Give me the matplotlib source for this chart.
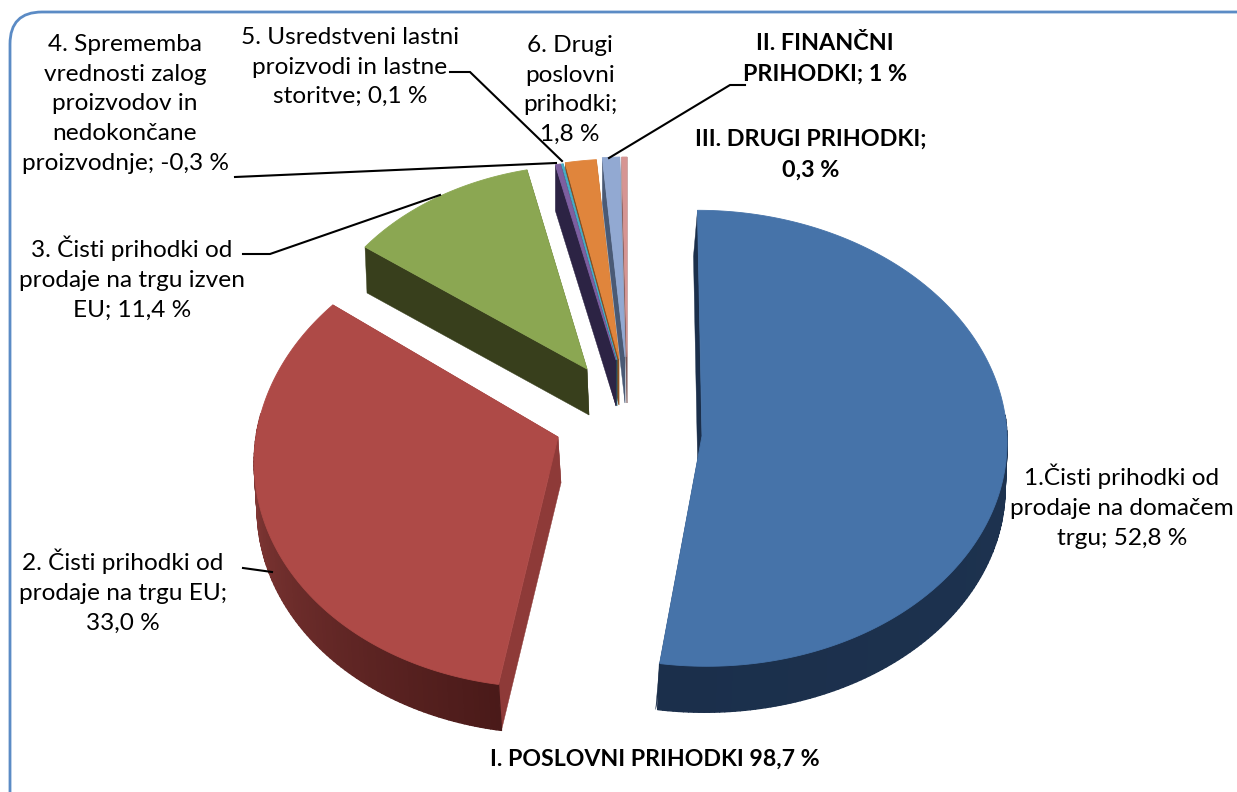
import numpy as np
import matplotlib
matplotlib.use('Agg')
import matplotlib.pyplot as plt
from matplotlib.patches import FancyBboxPatch, Polygon
from matplotlib.collections import PolyCollection
from matplotlib.colors import to_rgb

plt.rcParams['font.family'] = ['Lato', 'DejaVu Sans']

# chart data, in percent (item 4 is negative, the pie uses its size)
values = [52.8, 33.0, 11.4, -0.3, 0.1, 1.8, 1.0, 0.3]
labels = ["1.Čisti prihodki od\nprodaje na domačem\ntrgu; 52,8 %",
          "2. Čisti prihodki od\nprodaje na trgu EU;\n33,0 %",
          "3. Čisti prihodki od\nprodaje na trgu izven\nEU; 11,4 %",
          "4. Sprememba\nvrednosti zalog\nproizvodov in\nnedokončane\nproizvodnje; -0,3 %",
          "5. Usredstveni lastni\nproizvodi in lastne\nstoritve; 0,1 %",
          "6. Drugi\nposlovni\nprihodki;\n1,8 %",
          "II. FINANČNI\nPRIHODKI; 1 %",
          "III. DRUGI PRIHODKI;\n0,3 %"]
total_label = "I. POSLOVNI PRIHODKI 98,7 %"

# one entry per slice: colours
top_col = ['#4673a9', '#ae4a47', '#8ba752', '#7d5fa0', '#4bacc6', '#e0853c', '#92a9d2', '#d69593']
rim_a = ['#1b2f4b', '#4a1a19', '#383f1c', '#2c2344', '#1f5a66', '#8a5020', '#4a5a75', '#7a5555']
rim_b = ['#1f3654', '#a04845', '#383f1c', '#2c2344', '#1f5a66', '#8a5020', '#4a5a75', '#7a5555']
wall_col = ['#1b2f4b', '#8e3a38', '#383f1c', '#2c2344', '#1f5a66', '#8a5020', '#4a5a75', '#7a5555']

# one entry per slice: explode position and projection (pixels of the figure)
apex_x = [702, 558, 587, 616, 617, 619, 625, 627]
apex_y = [436, 437, 369, 360, 360, 359, 357, 357]
rad_x = [305, 302, 277, 280, 280, 280, 280, 280]
rad_y = [228, 232, 204, 200, 200, 200, 200, 200]
persp = [0.01, 0.08, 0.0, 0.0, 0.0, 0.0, 0.0, 0.0]
shear = [0.02, -0.04, 0.0, 0.0, 0.0, 0.0, 0.0, 0.0]
wall_dx = [-2, 3, 2, 0, 0, 0, 0, 0]
radial_dx = [-4, 3, 2, 0, 0, 0, 0, 0]
depth = 46


def rim(i, theta):
    # theta in radians, clockwise from the back of the pie
    u = np.sin(theta)
    v = -np.cos(theta)
    s = 1 + persp[i] * v
    y = rad_y[i] * v * s
    x = rad_x[i] * u * s + shear[i] * y
    return apex_x[i] + x, apex_y[i] + y


fig = plt.figure(figsize=(12.37, 7.92), dpi=100)
ax = fig.add_axes([0, 0, 1, 1])
ax.set_xlim(0, 1237)
ax.set_ylim(792, 0)
ax.axis('off')

frame = FancyBboxPatch((40, 42), 1227, 800, boxstyle="round,pad=30,rounding_size=32",
                       fc='white', ec='#5b8bc5', lw=2.0)
ax.add_patch(frame)

sizes = np.abs(values)
edges = np.concatenate([[0], np.cumsum(sizes)]) / sizes.sum() * 2 * np.pi
n = len(values)

for i in range(n):
    th = np.linspace(edges[i], edges[i + 1], max(int((edges[i + 1] - edges[i]) * 60), 3))
    x, y = rim(i, th)
    ax0, ay0 = apex_x[i], apex_y[i]
    dx = wall_dx[i]
    # walls of the slices further right go underneath
    zw = 2 + (n - i) * 0.01

    # radial walls
    for k in [0, -1]:
        rdx = radial_dx[i]
        ax.add_patch(Polygon([(ax0, ay0), (x[k], y[k]), (x[k] + rdx, y[k] + depth),
                              (ax0 + rdx, ay0 + depth)], fc=wall_col[i], ec=wall_col[i], lw=0.3, zorder=zw))

    # outer wall, shaded along the rim; only the part below the top face shows
    quads = []
    cols = []
    ca, cb = np.array(to_rgb(rim_a[i])), np.array(to_rgb(rim_b[i]))
    for k in range(len(th) - 1):
        if np.cos(th[k]) > 0.1:
            continue
        quads.append([(x[k], y[k]), (x[k + 1], y[k + 1]),
                      (x[k + 1] + dx, y[k + 1] + depth), (x[k] + dx, y[k] + depth)])
        t = k / max(len(th) - 2, 1)
        if i == 0:
            t = 1 - t
        cols.append(ca + (cb - ca) * t)
    if quads:
        ax.add_collection(PolyCollection(quads, facecolors=cols, edgecolors=cols, linewidths=1.0, zorder=zw))

    # top face
    ax.add_patch(Polygon(np.column_stack([np.r_[ax0, x], np.r_[ay0, y]]),
                         fc=top_col[i], ec=top_col[i], lw=0.6, zorder=3))

# leader lines
leaders = [([243, 272], [568, 572]),
           ([243, 270, 440], [254, 254, 195]),
           ([235, 556], [177, 163]),
           ([450, 470, 562], [72, 72, 161]),
           ([745, 730, 609], [85, 85, 158])]
for lx, ly in leaders:
    ax.plot(lx, ly, color='black', lw=1.5, zorder=4, solid_joinstyle='miter')

# label centres, pixels
label_x = [1122, 123, 132, 125, 350, 570, 825, 811]
label_y = [506, 591, 278, 104, 67, 90, 59, 155]
label_weight = ['normal'] * 6 + ['bold', 'bold']
label_size = [17.6] * 6 + [16.8, 16.8]
for i in range(len(labels)):
    ax.text(label_x[i], label_y[i], labels[i], ha='center', va='center', fontsize=label_size[i],
            weight=label_weight[i], linespacing=1.52 * 17.6 / label_size[i], color='black', zorder=5)
ax.text(655, 759, total_label, ha='center', va='center', fontsize=16.7, weight='bold', zorder=5)

fig.savefig('out.png', dpi=100)
